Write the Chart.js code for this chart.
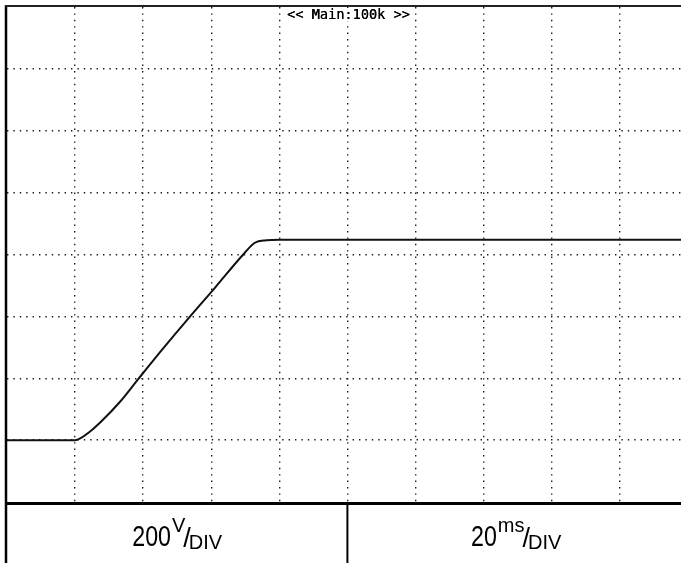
<!DOCTYPE html>
<html><head><meta charset="utf-8">
<style>html,body{margin:0;padding:0;background:#fff;overflow:hidden}#wrap{position:relative;width:681px;height:563px}</style>
<script src="https://cdn.jsdelivr.net/npm/chart.js@4.4.1/dist/chart.umd.min.js"></script>
</head><body><div id="wrap"><canvas id="c"></canvas></div>
<script>
// Trace values (time in ms, voltage in V)
const timeMs = [0, 20, 24.4, 28.4, 33.2, 38.6, 46, 53.8, 61.2, 69.4, 72.8, 76.2, 80, 198];
const volts  = [200, 200, 228, 268, 324, 398, 498, 600, 694, 800, 838, 846, 848, 848];
const msPerDiv = 20;
const voltsPerDiv = 200;
const xMaxMs = 198;      // visible part of the 10-division screen
const yMaxV = 1600;      // 8 divisions
const topLabel = '<< Main:100k >>';
const leftLabel = ['200', 'V', 'DIV'];
const rightLabel = ['20', 'ms', 'DIV'];

const points = timeMs.map((t, i) => ({x: t, y: volts[i]}));

const gridColor = (edgeVals) => (ctx) => {
  const v = ctx.tick.value;
  return edgeVals(v) ? 'rgba(0,0,0,0)' : '#1a1a1a';
};

const scopeFrame = {
  id: 'scopeFrame',
  afterDraw(chart) {
    const {ctx, chartArea: a, scales: {x}} = chart;
    const W = chart.width, H = chart.height;
    const mid = x.getPixelForValue(5 * msPerDiv);
    ctx.save();
    ctx.strokeStyle = '#000';
    ctx.lineCap = 'butt';
    // left border
    ctx.lineWidth = 2.5;
    ctx.beginPath(); ctx.moveTo(a.left - 1, a.top - 2); ctx.lineTo(a.left - 1, H); ctx.stroke();
    // top border
    ctx.lineWidth = 2;
    ctx.strokeStyle = '#222';
    ctx.beginPath(); ctx.moveTo(a.left - 2, a.top - 1); ctx.lineTo(W, a.top - 1); ctx.stroke();
    // bottom border
    ctx.strokeStyle = '#000';
    ctx.lineWidth = 3;
    ctx.beginPath(); ctx.moveTo(a.left - 2, a.bottom + 1.5); ctx.lineTo(W, a.bottom + 1.5); ctx.stroke();
    // divider
    ctx.lineWidth = 2;
    ctx.beginPath(); ctx.moveTo(mid, a.bottom + 2); ctx.lineTo(mid, H); ctx.stroke();

    // top label
    ctx.font = '13.6px "DejaVu Sans Mono", monospace';
    ctx.textBaseline = 'alphabetic';
    const tw = ctx.measureText(topLabel).width;
    ctx.fillStyle = '#fff';
    ctx.fillRect(mid - tw / 2 - 3, a.top + 1, tw + 6, 13);
    ctx.fillStyle = '#000';
    ctx.textAlign = 'left';
    ctx.fillText(topLabel, mid - tw / 2 + 1, a.top + 12);
    ctx.fillText(topLabel, mid - tw / 2 + 1.3, a.top + 12);

    // bottom labels
    const drawLabel = (parts, cx) => {
      const fam = '"Liberation Sans", Arial, sans-serif';
      const fMain = '29px ' + fam;
      const fSup = '20px ' + fam;
      const fSlash = '27px ' + fam;
      const fSub = '20px ' + fam;
      const mainScale = 0.8;
      ctx.font = fMain; const w1 = ctx.measureText(parts[0]).width * mainScale;
      ctx.font = fSup; const w2 = ctx.measureText(parts[1]).width;
      ctx.font = fSlash; const w3 = ctx.measureText('/').width;
      ctx.font = fSub; const w4 = ctx.measureText(parts[2]).width;
      const total = w1 + w2 + w3 + w4 - 3;
      let px = cx - total / 2;
      const base = a.bottom + 44;
      ctx.fillStyle = '#000';
      ctx.font = fMain;
      ctx.save(); ctx.translate(px, base); ctx.scale(mainScale, 1); ctx.fillText(parts[0], 0, 0); ctx.restore();
      px += w1 + 1;
      ctx.font = fSup; ctx.fillText(parts[1], px, base - 14); px += w2 - 2;
      ctx.font = fSlash; ctx.fillText('/', px, base + 1); px += w3 - 2;
      ctx.font = fSub; ctx.fillText(parts[2], px, base + 3);
    };
    drawLabel(leftLabel, (a.left + mid) / 2);
    drawLabel(rightLabel, (mid + W) / 2 + 2);
    ctx.restore();
  }
};

new Chart(document.getElementById('c'), {
  type: 'line',
  data: {
    datasets: [{
      data: points,
      borderColor: '#111',
      borderWidth: 2,
      pointRadius: 0,
      cubicInterpolationMode: 'monotone',
      fill: false
    }]
  },
  options: {
    responsive: true,
    maintainAspectRatio: false,
    animation: false,
    events: [],
    layout: {padding: {left: 7, top: 7, right: 0, bottom: 61}},
    plugins: {legend: {display: false}, tooltip: {enabled: false}, title: {display: false}},
    scales: {
      x: {
        type: 'linear', min: 0, max: xMaxMs,
        ticks: {display: false, stepSize: msPerDiv},
        grid: {drawTicks: false, lineWidth: 1.4, color: gridColor(v => v === 0 || v % msPerDiv !== 0)},
        border: {display: false, dash: [1.4, 5]},
        afterFit: s => { s.height = 0; }
      },
      y: {
        type: 'linear', min: 0, max: yMaxV,
        ticks: {display: false, stepSize: voltsPerDiv},
        grid: {drawTicks: false, lineWidth: 1.4, color: gridColor(v => v === 0 || v === yMaxV)},
        border: {display: false, dash: [1.4, 5]},
        afterFit: s => { s.width = 0; }
      }
    }
  },
  plugins: [scopeFrame]
});
</script></body></html>
